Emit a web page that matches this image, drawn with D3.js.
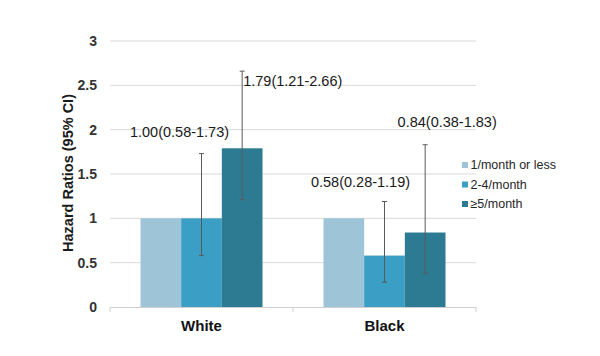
<!DOCTYPE html>
<html><head><meta charset="utf-8">
<script src="https://cdn.jsdelivr.net/npm/d3@7"></script>
<style>body{margin:0;background:#fff;} svg{display:block;font-family:"Liberation Sans",Arial,sans-serif;}</style>
</head><body>
<svg id="chart" width="600" height="356"></svg>
<script>
const categories = ["White", "Black"];
const seriesNames = ["1/month or less", "2-4/month", "\u22655/month"];
const whiteValues = [1.00, 1.00, 1.79];
const blackValues = [1.00, 0.58, 0.84];
const whiteLower = [null, 0.58, 1.21];
const whiteUpper = [null, 1.73, 2.66];
const blackLower = [null, 0.28, 0.38];
const blackUpper = [null, 1.19, 1.83];
const yTicks = [0, 0.5, 1, 1.5, 2, 2.5, 3];
const yTickLabels = ["0", "0.5", "1", "1.5", "2", "2.5", "3"];
const annotations = [
  {cat: "White", series: 1, text: "1.00(0.58-1.73)", at: 1.97, dx: -22, anchor: "middle"},
  {cat: "White", series: 2, text: "1.79(1.21-2.66)", at: 2.55, dx: 1, anchor: "start"},
  {cat: "Black", series: 1, text: "0.58(0.28-1.19)", at: 1.41, dx: -24, anchor: "middle"},
  {cat: "Black", series: 2, text: "0.84(0.38-1.83)", at: 2.09, dx: 22, anchor: "middle"}
];
const colors = ["#9dc4d7", "#3b9ec4", "#2d7b93"];

const svg = d3.select("#chart");
const x0 = d3.scaleBand().domain(categories).range([110, 476]).paddingInner(0).paddingOuter(0);
const groupPad = 30.5;
const x1 = d3.scaleBand().domain(d3.range(seriesNames.length))
  .range([groupPad, x0.bandwidth() - groupPad]).padding(0);
const y = d3.scaleLinear().domain([0, 3]).range([307, 41]);

const rows = categories.map((c, i) => ({
  cat: c,
  vals: i === 0 ? whiteValues : blackValues,
  lo: i === 0 ? whiteLower : blackLower,
  hi: i === 0 ? whiteUpper : blackUpper
}));

// gridlines
svg.append("g").selectAll("line").data(yTicks.filter(t => t > 0)).join("line")
  .attr("x1", 110).attr("x2", 476)
  .attr("y1", d => y(d)).attr("y2", d => y(d))
  .attr("stroke", "#d9d9d9").attr("stroke-width", 1);

// y tick labels
svg.append("g").selectAll("text").data(yTicks).join("text")
  .attr("x", 97).attr("y", d => y(d)).attr("dy", "0.35em")
  .attr("text-anchor", "end").attr("font-size", 14).attr("font-weight", "bold").attr("fill", "#333")
  .text((d, i) => yTickLabels[i]);

// bars
const groups = svg.append("g").selectAll("g").data(rows).join("g")
  .attr("transform", d => `translate(${x0(d.cat)},0)`);
groups.selectAll("rect").data(d => d.vals.map((v, i) => ({v, i}))).join("rect")
  .attr("x", d => x1(d.i)).attr("width", x1.bandwidth())
  .attr("y", d => y(d.v)).attr("height", d => y(0) - y(d.v))
  .attr("fill", d => colors[d.i]);

// x axis
const xAxis = svg.append("g").attr("transform", `translate(0,${y(0)})`)
  .call(d3.axisBottom(x0).tickSize(0).tickFormat(""));
xAxis.select(".domain").attr("stroke", "#d0d0d0");
xAxis.selectAll(".tick").remove();
svg.append("g").selectAll("line").data([110, x0("Black"), 476]).join("line")
  .attr("x1", d => d).attr("x2", d => d).attr("y1", y(0)).attr("y2", y(0) + 5)
  .attr("stroke", "#d0d0d0");
svg.append("g").selectAll("text").data(categories).join("text")
  .attr("x", d => x0(d) + x0.bandwidth() / 2).attr("y", 331)
  .attr("text-anchor", "middle").attr("font-size", 15).attr("font-weight", "bold")
  .attr("fill", "#111").text(d => d);

// error bars
groups.each(function(row) {
  const g = d3.select(this);
  const data = row.vals.map((v, i) => ({i, lo: row.lo[i], hi: row.hi[i]})).filter(d => d.lo != null);
  const cx = d => x1(d.i) + x1.bandwidth() / 2;
  g.selectAll("line.eb").data(data).join("line").attr("class", "eb")
    .attr("x1", cx).attr("x2", cx).attr("y1", d => y(d.lo)).attr("y2", d => y(d.hi))
    .attr("stroke", "#5a5a5a").attr("stroke-width", 1);
  ["lo", "hi"].forEach(k => {
    g.selectAll("line.cap" + k).data(data).join("line").attr("class", "cap" + k)
      .attr("x1", d => cx(d) - 2.5).attr("x2", d => cx(d) + 2.5)
      .attr("y1", d => y(d[k])).attr("y2", d => y(d[k]))
      .attr("stroke", "#5a5a5a").attr("stroke-width", 1);
  });
});

// annotations
svg.append("g").selectAll("text").data(annotations).join("text")
  .attr("x", d => x0(d.cat) + x1(d.series) + x1.bandwidth() / 2 + d.dx)
  .attr("y", d => y(d.at)).attr("dy", "0.35em")
  .attr("text-anchor", d => d.anchor).attr("font-size", 14.5).attr("fill", "#1a1a1a")
  .text(d => d.text);

// y axis title
svg.append("text").attr("transform", "translate(68,173) rotate(-90)")
  .attr("text-anchor", "middle").attr("dy", "0.35em").attr("font-size", 14.5).attr("font-weight", "bold")
  .attr("fill", "#1a1a1a").text("Hazard Ratios (95% CI)");

// legend
const legend = svg.append("g").selectAll("g").data(seriesNames).join("g")
  .attr("transform", (d, i) => `translate(462,${165 + i * 19.5})`);
legend.append("rect").attr("x", 0).attr("y", -3).attr("width", 6).attr("height", 6)
  .attr("fill", (d, i) => colors[i]);
legend.append("text").attr("x", 8.5).attr("y", 0).attr("dy", "0.35em")
  .attr("font-size", 12.5).attr("fill", "#262626").text(d => d);
</script>
</body></html>
